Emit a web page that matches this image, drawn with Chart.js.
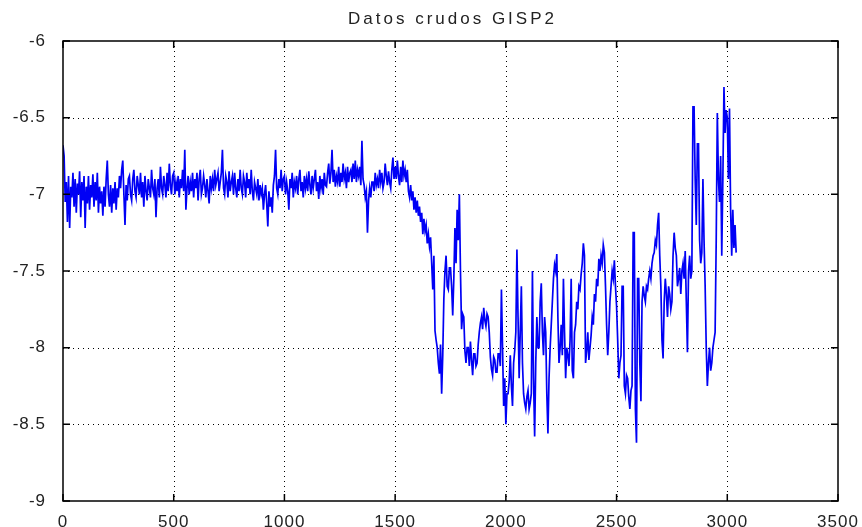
<!DOCTYPE html>
<html>
<head>
<meta charset="utf-8">
<script src="https://cdn.jsdelivr.net/npm/chart.js@4.4.1/dist/chart.umd.min.js"></script>
<style>
  html, body { margin: 0; padding: 0; background: #fff; }
  #wrap { position: relative; width: 862px; height: 527px; }
</style>
</head>
<body>
<div id="wrap"><canvas id="gispChart" width="862" height="527"></canvas></div>
<script>
// Chart text and axis ticks
const chartTitle = 'Datos crudos GISP2';
const xTickValues = [0, 500, 1000, 1500, 2000, 2500, 3000, 3500];
const yTickValues = [-9, -8.5, -8, -7.5, -7, -6.5, -6];

// Sample spacing along the x axis (one value every 5 units)
const SAMPLE_STEP = 5;

// Raw GISP2 values, x = 0, 5, 10 ... 3040 (one row = 50 units)
const rawValues = [
  -6.68, -6.75, -7.05, -6.92, -7.18, -6.88, -7.22, -6.95, -7.02, -6.86,
  -7.08, -6.90, -7.12, -6.93, -7.00, -6.85, -7.15, -6.92, -7.04, -6.88,
  -7.22, -6.95, -7.06, -6.88, -7.10, -6.94, -7.02, -6.87, -7.08, -6.92,
  -7.04, -6.86, -7.12, -6.95, -7.06, -6.98, -7.14, -6.95, -7.08, -6.90,
  -6.78, -7.00, -7.08, -6.94, -7.12, -6.96, -7.06, -6.92, -7.10, -6.96,
  -7.02, -6.88, -6.96, -6.84, -6.78, -7.00, -7.20, -6.94, -7.04, -6.90,
  -6.88, -7.00, -7.04, -6.90, -6.84, -6.98, -7.02, -6.88, -6.94, -7.00,
  -6.86, -7.02, -6.92, -7.08, -6.88, -6.98, -7.04, -6.90, -6.96, -7.02,
  -6.84, -6.96, -7.00, -6.90, -7.15, -6.96, -6.90, -7.02, -6.82, -6.96,
  -7.00, -6.88, -6.94, -7.02, -6.86, -6.98, -6.80, -6.94, -7.00, -6.88,
  // 500
  -6.86, -7.00, -6.92, -6.98, -6.88, -7.02, -6.90, -6.96, -6.84, -6.98,
  -6.71, -7.10, -6.96, -6.88, -7.00, -6.92, -6.98, -6.86, -7.02, -6.90,
  -6.96, -6.86, -7.04, -6.90, -6.84, -7.00, -6.96, -6.88, -6.94, -7.02,
  -6.90, -6.98, -7.06, -6.88, -6.96, -6.90, -6.98, -6.84, -6.94, -6.90,
  -6.86, -6.98, -6.92, -6.86, -6.71, -6.96, -7.00, -6.88, -6.92, -7.02,
  -6.85, -6.98, -6.92, -6.88, -7.00, -6.86, -6.96, -7.02, -6.90, -6.98,
  -6.84, -6.96, -7.00, -6.88, -6.92, -7.02, -6.86, -6.96, -6.90, -7.00,
  -6.84, -6.98, -7.04, -6.92, -6.96, -7.00, -6.90, -7.04, -6.94, -7.00,
  -6.96, -7.10, -7.00, -6.94, -7.06, -7.21, -6.98, -7.08, -7.02, -7.12,
  -6.94, -6.88, -6.71, -6.96, -7.00, -6.90, -6.96, -6.84, -6.98, -6.90,
  // 1000
  -6.88, -7.00, -6.92, -6.98, -7.10, -6.90, -6.96, -6.86, -7.02, -6.92,
  -6.96, -6.88, -7.00, -6.90, -6.84, -6.98, -6.92, -7.02, -6.88, -6.96,
  -6.90, -6.98, -6.85, -6.94, -7.00, -6.88, -6.96, -6.90, -6.84, -6.98,
  -6.92, -7.03, -6.88, -6.96, -6.90, -7.00, -6.86, -6.94, -6.95, -6.86,
  -6.80, -6.93, -6.86, -6.71, -6.92, -6.84, -6.95, -6.88, -6.92, -6.82,
  -6.95, -6.86, -6.92, -6.80, -6.90, -6.86, -6.96, -6.82, -6.92, -6.86,
  -6.84, -6.92, -6.80, -6.90, -6.78, -6.92, -6.84, -6.88, -6.82, -6.94,
  -6.65, -6.90, -6.94, -7.02, -6.98, -7.25, -7.04, -6.96, -7.02, -6.92,
  -6.92, -6.98, -6.86, -6.94, -6.90, -6.96, -6.84, -6.92, -6.86, -6.96,
  -6.92, -6.80, -6.88, -6.94, -6.85, -6.92, -6.96, -6.84, -6.76, -6.90,
  // 1500
  -6.82, -6.90, -6.78, -6.88, -6.94, -6.82, -6.92, -6.78, -6.88, -6.84,
  -6.92, -6.84, -6.98, -7.02, -6.94, -7.04, -6.98, -7.10, -7.02, -7.12,
  -7.04, -7.14, -7.08, -7.18, -7.12, -7.26, -7.16, -7.24, -7.20, -7.32,
  -7.26, -7.34, -7.28, -7.45, -7.62, -7.40, -7.89, -7.95, -8.00, -8.10,
  -8.17, -7.98, -8.30, -8.05, -7.68, -7.50, -7.40, -7.60, -7.62, -7.48,
  -7.48, -7.60, -7.79, -7.55, -7.22, -7.45, -7.10, -7.30, -7.00, -7.50,
  -7.88, -7.78, -7.80, -8.02, -8.10, -8.00, -8.00, -8.12, -7.96, -8.08,
  -8.18, -8.04, -8.04, -8.12, -8.10, -7.98, -7.90, -7.84, -7.80, -7.88,
  -7.74, -7.82, -7.86, -7.78, -7.80, -7.90, -8.06, -8.14, -8.18, -8.06,
  -8.08, -8.16, -8.16, -8.04, -8.04, -8.12, -7.62, -8.00, -8.38, -8.20,
  // 2000
  -8.50, -8.30, -8.30, -8.22, -8.05, -8.25, -8.38, -8.10, -8.02, -7.90,
  -7.36, -7.80, -8.20, -7.90, -7.60, -8.10, -8.30, -8.36, -8.40, -8.32,
  -8.28, -8.40, -8.36, -8.30, -7.50, -8.20, -8.58, -8.10, -7.80, -8.00,
  -8.00, -7.70, -7.58, -7.90, -8.05, -7.80, -7.90, -8.30, -8.56, -8.20,
  -8.00, -7.85, -7.70, -7.55, -7.46, -7.50, -7.39, -7.80, -8.10, -8.00,
  -7.85, -8.05, -7.55, -7.90, -8.20, -8.00, -8.05, -8.12, -7.95, -7.55,
  -8.15, -8.20, -7.90, -7.85, -7.70, -7.75, -7.60, -7.62, -7.52, -7.45,
  -7.32, -7.40, -8.10, -8.02, -7.90, -8.08, -8.00, -7.92, -7.80, -7.85,
  -7.65, -7.70, -7.55, -7.60, -7.42, -7.50, -7.40, -7.45, -7.33, -7.38,
  -7.60, -7.85, -8.05, -7.90, -7.70, -7.60, -7.50, -7.55, -7.43, -7.60,
  // 2500
  -7.73, -7.95, -8.20, -8.10, -8.05, -7.60, -7.60, -8.25, -8.30, -8.18,
  -8.20, -8.32, -8.40, -8.28, -8.25, -7.25, -7.25, -8.40, -8.62, -7.55,
  -7.55, -8.10, -8.35, -7.70, -7.60, -7.66, -7.70, -7.60, -7.62, -7.55,
  -7.50, -7.55, -7.45, -7.40, -7.38, -7.30, -7.33, -7.20, -7.12, -7.40,
  -7.60, -7.95, -8.07, -7.70, -7.55, -7.65, -7.80, -7.60, -7.65, -7.75,
  -7.70, -7.40, -7.25, -7.35, -7.40, -7.60, -7.55, -7.48, -7.65, -7.50,
  -7.45, -7.55, -7.37, -7.70, -8.03, -7.50, -7.40, -7.55, -7.50, -6.43,
  -6.43, -6.90, -7.20, -6.67, -6.67, -7.30, -7.45, -7.38, -6.90, -7.30,
  -7.60, -8.00, -8.25, -8.10, -8.00, -8.15, -8.10, -8.00, -7.95, -7.90,
  -7.30, -6.47, -6.90, -7.05, -6.75, -7.40, -6.90, -6.30, -6.60, -6.45,
  // 3000
  -6.50, -6.90, -6.44, -7.10, -7.40, -7.10, -7.35, -7.20, -7.38
];

const points = rawValues.map((v, i) => ({ x: i * SAMPLE_STEP, y: v }));

const FONT_FAMILY = '"Liberation Sans", Arial, sans-serif';

// Wider letter spacing for all canvas text, like the stretched original
const textSpacing = {
  id: 'textSpacing',
  beforeInit(chart) { chart.ctx.letterSpacing = '1px'; },
  beforeDraw(chart) { chart.ctx.letterSpacing = '1px'; }
};

// Draws the MATLAB style frame: dotted grid, box, inward ticks and title
const matlabFrame = {
  id: 'matlabFrame',
  beforeDatasetsDraw(chart) {
    const { ctx, chartArea: a, scales } = chart;
    ctx.save();
    ctx.strokeStyle = '#000';
    ctx.lineWidth = 1;
    ctx.setLineDash([1, 4]);
    xTickValues.slice(1, -1).forEach(v => {
      const x = Math.round(scales.x.getPixelForValue(v)) + 0.5;
      ctx.beginPath();
      ctx.moveTo(x, a.top);
      ctx.lineTo(x, a.bottom);
      ctx.stroke();
    });
    yTickValues.slice(1, -1).forEach(v => {
      const y = Math.round(scales.y.getPixelForValue(v)) + 0.5;
      ctx.beginPath();
      ctx.moveTo(a.left, y);
      ctx.lineTo(a.right, y);
      ctx.stroke();
    });
    ctx.restore();
  },
  afterDraw(chart) {
    const { ctx, chartArea: a, scales } = chart;
    const tick = 7;
    ctx.save();
    ctx.strokeStyle = '#000';
    ctx.lineWidth = 1.5;
    ctx.setLineDash([]);
    ctx.strokeRect(a.left, a.top, a.right - a.left, a.bottom - a.top);
    ctx.beginPath();
    xTickValues.forEach(v => {
      const x = scales.x.getPixelForValue(v);
      ctx.moveTo(x, a.bottom);
      ctx.lineTo(x, a.bottom - tick);
      ctx.moveTo(x, a.top);
      ctx.lineTo(x, a.top + tick);
    });
    yTickValues.forEach(v => {
      const y = scales.y.getPixelForValue(v);
      ctx.moveTo(a.left, y);
      ctx.lineTo(a.left + tick, y);
      ctx.moveTo(a.right, y);
      ctx.lineTo(a.right - tick, y);
    });
    ctx.stroke();

    ctx.fillStyle = '#222';
    ctx.font = '17px ' + FONT_FAMILY;
    ctx.letterSpacing = '3px';
    ctx.textAlign = 'center';
    ctx.textBaseline = 'middle';
    ctx.fillText(chartTitle, (a.left + a.right) / 2 + 2, 19);
    ctx.restore();
  }
};

const ctx = document.getElementById('gispChart').getContext('2d');
const chart = new Chart(ctx, {
  type: 'line',
  data: {
    datasets: [{
      label: 'GISP2',
      data: points,
      borderColor: '#0000f5',
      borderWidth: 1.7,
      pointRadius: 0,
      tension: 0,
      fill: false
    }]
  },
  options: {
    responsive: false,
    animation: false,
    events: [],
    layout: { padding: { top: 41, right: 24, left: 0, bottom: 0 } },
    plugins: {
      legend: { display: false },
      title: { display: false },
      tooltip: { enabled: false }
    },
    scales: {
      x: {
        type: 'linear',
        min: 0,
        max: 3500,
        afterBuildTicks: s => { s.ticks = xTickValues.map(v => ({ value: v })); },
        afterFit: s => { s.height = 26; },
        grid: { display: false },
        border: { display: false },
        ticks: {
          color: '#222',
          padding: 3,
          maxRotation: 0,
          font: { family: FONT_FAMILY, size: 17 },
          callback: v => String(v)
        }
      },
      y: {
        type: 'linear',
        min: -9,
        max: -6,
        afterBuildTicks: s => { s.ticks = yTickValues.map(v => ({ value: v })); },
        afterFit: s => { s.width = 63; },
        grid: { display: false },
        border: { display: false },
        ticks: {
          color: '#222',
          padding: 9,
          font: { family: FONT_FAMILY, size: 17 },
          callback: v => String(v)
        }
      }
    }
  },
  plugins: [textSpacing, matlabFrame]
});
</script>
</body>
</html>
